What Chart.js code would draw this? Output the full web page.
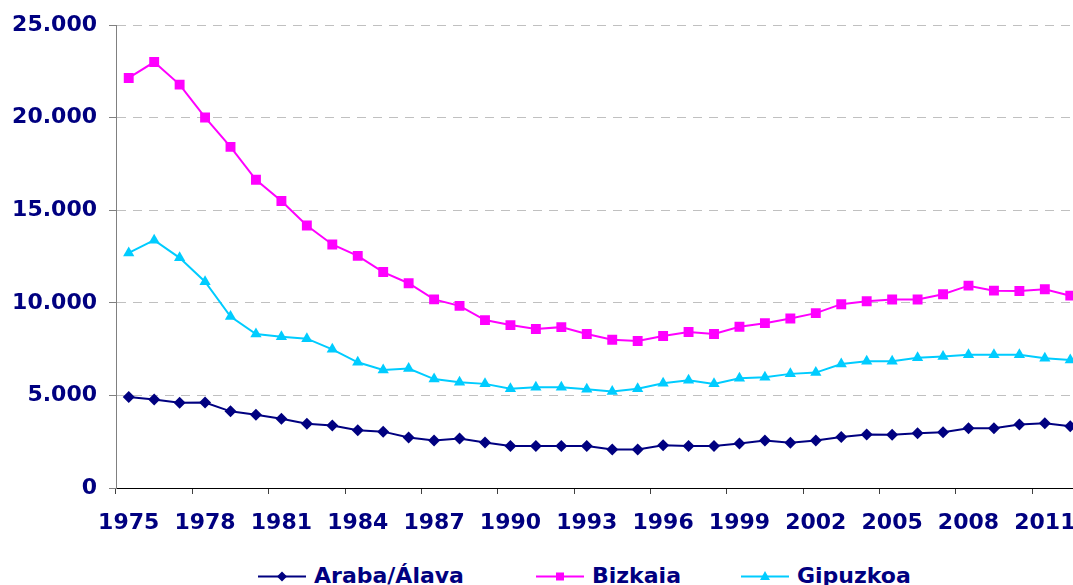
<!DOCTYPE html>
<html>
<head>
<meta charset="utf-8">
<script src="https://cdn.jsdelivr.net/npm/chart.js@4/dist/chart.umd.min.js"></script>
<style>
  html, body { margin: 0; padding: 0; background: #fff; overflow: hidden; width: 1073px; height: 585px; }
  #wrap { position: relative; width: 1090px; height: 545px; }
  .leg { position: absolute; top: 563px; height: 26px; display: flex; align-items: center;
         font-family: "DejaVu Sans", Verdana, sans-serif; font-weight: bold; font-size: 22px;
         line-height: 26px; color: #000080; white-space: nowrap; }
  .leg svg { margin-right: 8px; }
</style>
</head>
<body>
<div id="wrap"><canvas id="lineChart"></canvas></div>

<div class="leg" style="left:258px">
  <svg width="48" height="26"><line x1="0" y1="13.5" x2="48" y2="13.5" stroke="#000080" stroke-width="2"/>
  <polygon points="24,8.5 29,13.5 24,18.5 19,13.5" fill="#000080"/></svg>Araba/Álava
</div>
<div class="leg" style="left:536px">
  <svg width="48" height="26"><line x1="0" y1="13.5" x2="48" y2="13.5" stroke="#ff00ff" stroke-width="2"/>
  <rect x="20" y="9.5" width="8" height="8" fill="#ff00ff"/></svg>Bizkaia
</div>
<div class="leg" style="left:741px">
  <svg width="48" height="26"><line x1="0" y1="13.5" x2="48" y2="13.5" stroke="#00ccff" stroke-width="2"/>
  <polygon points="24,8 29,17 19,17" fill="#00ccff"/></svg>Gipuzkoa
</div>

<script>
// años (categorías del eje X)
var years = ['1975','1976','1977','1978','1979','1980','1981','1982','1983','1984',
             '1985','1986','1987','1988','1989','1990','1991','1992','1993','1994',
             '1995','1996','1997','1998','1999','2000','2001','2002','2003','2004',
             '2005','2006','2007','2008','2009','2010','2011','2012'];

var araba = [4910, 4785, 4605, 4620, 4140, 3960, 3745, 3475, 3370, 3120,
             3045, 2725, 2570, 2670, 2455, 2275, 2275, 2275, 2275, 2080,
             2080, 2310, 2275, 2275, 2400, 2560, 2440, 2565, 2760, 2885,
             2870, 2955, 3010, 3225, 3225, 3425, 3495, 3335];

var bizkaia = [22150, 23010, 21790, 20015, 18425, 16650, 15500, 14180, 13155, 12540,
               11665, 11060, 10190, 9840, 9070, 8800, 8585, 8690, 8315, 8010,
               7940, 8210, 8425, 8315, 8710, 8905, 9155, 9445, 9930, 10090,
               10180, 10180, 10465, 10930, 10660, 10645, 10735, 10390];

var gipuzkoa = [12700, 13385, 12435, 11145, 9265, 8315, 8170, 8065, 7490, 6790,
                6380, 6450, 5885, 5715, 5625, 5360, 5445, 5445, 5340, 5215,
                5360, 5660, 5820, 5625, 5930, 5985, 6165, 6235, 6700, 6845,
                6845, 7040, 7110, 7200, 7200, 7200, 7005, 6920];

var yTicks = [0, 5000, 10000, 15000, 20000, 25000];

const NAVY = '#000080';
const tickFont = { family: 'DejaVu Sans', size: 22, weight: 'bold' };

function serie(label, data, color, style, radius) {
  return {
    label: label,
    data: data,
    borderColor: color,
    backgroundColor: color,
    borderWidth: 2,
    lineTension: 0,
    fill: false,
    pointStyle: style,
    pointRadius: radius,
    pointBorderWidth: 0,
    pointBackgroundColor: color,
    pointBorderColor: color
  };
}

function miles(v) {
  return String(v).replace(/\B(?=(\d{3})+(?!\d))/g, '.');
}

const CHART = document.getElementById('lineChart');

let lineChart = new Chart(CHART, {
  type: 'line',
  data: {
    labels: years,
    datasets: [
      serie('Araba/Álava', araba, NAVY, 'rectRot', 6),
      serie('Bizkaia', bizkaia, '#ff00ff', 'rect', 7),
      serie('Gipuzkoa', gipuzkoa, '#00ccff', 'triangle', 6.5)
    ]
  },
  options: {
    responsive: true,
    maintainAspectRatio: false,
    animation: false,
    layout: { padding: { top: 23, left: 0, right: 0, bottom: 0 } },
    plugins: { legend: { display: false }, tooltip: { enabled: false } },
    scales: {
      x: {
        offset: true,
        afterFit: function(scale) { scale.height = 57; },
        grid: {
          offset: true,
          drawOnChartArea: false,
          tickLength: 6,
          tickColor: function(ctx) { return ctx.index % 3 === 0 ? '#404040' : 'rgba(0,0,0,0)'; }
        },
        border: { display: true, color: '#000000', width: 1 },
        ticks: {
          autoSkip: false,
          maxRotation: 0,
          padding: 16,
          color: NAVY,
          font: tickFont,
          callback: function(value, index) {
            return index % 3 === 0 ? this.getLabelForValue(value) : '';
          }
        }
      },
      y: {
        min: 0,
        max: 25000,
        afterFit: function(scale) { scale.width = 116; },
        afterBuildTicks: function(scale) {
          scale.ticks = yTicks.map(function(v) { return { value: v }; });
        },
        grid: {
          color: function(ctx) { return ctx.tick && ctx.tick.value === 0 ? 'rgba(0,0,0,0)' : '#c0c0c0'; },
          tickLength: 7,
          tickColor: '#808080'
        },
        border: { display: true, color: '#808080', width: 1, dash: [9, 7] },
        ticks: {
          padding: 12,
          color: NAVY,
          font: tickFont,
          callback: function(v) { return miles(v); }
        }
      }
    }
  }
});
</script>
</body>
</html>
